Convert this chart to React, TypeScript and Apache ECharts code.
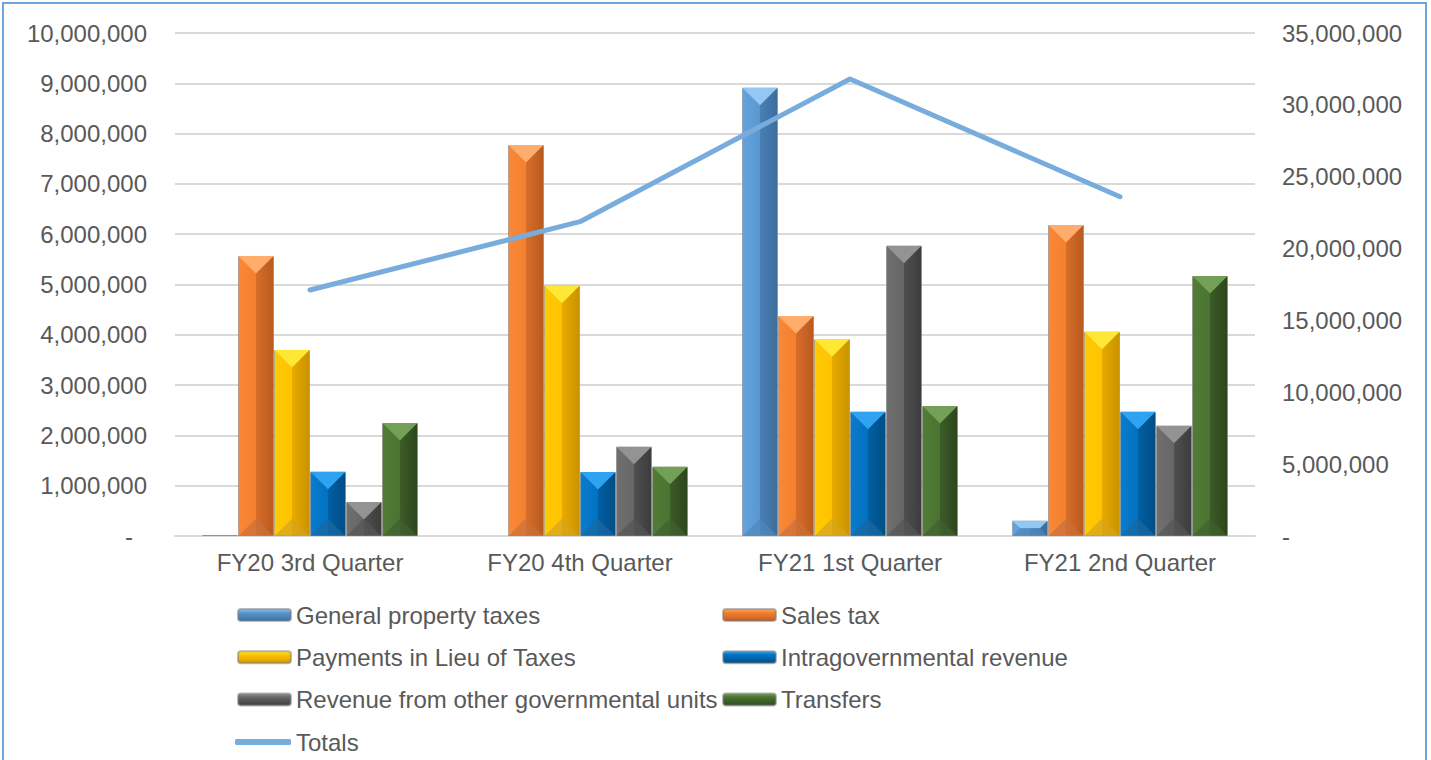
import React, { useEffect, useRef } from "react";
import * as echarts from "echarts";

const categories = ["FY20 3rd Quarter", "FY20 4th Quarter", "FY21 1st Quarter", "FY21 2nd Quarter"];

const generalPropertyTaxes = [20000, -25000, 8913000, 304000];
const salesTax = [5567000, 7773000, 4374000, 6183000];
const paymentsInLieu = [3698000, 4976000, 3910000, 4062000];
const intragovRevenue = [1278000, 1272000, 2471000, 2471000];
const otherGovUnits = [676000, 1775000, 5771000, 2193000];
const transfers = [2247000, 1378000, 2584000, 5169000];
const totals = [17120000, 21870000, 31800000, 23610000];

const barSeriesDefs = [
  { name: "General property taxes", data: generalPropertyTaxes, c: ["#62a3e0", "#5a97d0", "#4a80b6", "#3d6c9a"], top: "#93c8f4", bottom: "#4f86ba" },
  { name: "Sales tax", data: salesTax, c: ["#fb8837", "#f3802f", "#d86d29", "#b85a20"], top: "#ffac6c", bottom: "#c9713b" },
  { name: "Payments in Lieu of Taxes", data: paymentsInLieu, c: ["#ffca05", "#ffc300", "#e8ab00", "#c99200"], top: "#ffe835", bottom: "#d5a41e" },
  { name: "Intragovernmental revenue", data: intragovRevenue, c: ["#0a7cca", "#0072c2", "#005fa3", "#004d85"], top: "#30a2f2", bottom: "#1b68a3" },
  { name: "Revenue from other governmental units", data: otherGovUnits, c: ["#707070", "#666666", "#4f4f4f", "#3c3c3c"], top: "#939393", bottom: "#555555" },
  { name: "Transfers", data: transfers, c: ["#527c36", "#4b7331", "#3b5c27", "#2c461d"], top: "#72a056", bottom: "#40602f" },
];

const TEXT = "#595959";
const FONT = "'Liberation Sans', Arial, sans-serif";
const CAT_GAP = 0.2;
const LINE_COLOR = "#78acdc";

export default function App() {
  const ref = useRef<HTMLDivElement>(null);
  useEffect(() => {
    if (!ref.current) return;
    const chart = echarts.init(ref.current, undefined, { renderer: "svg" });
    const nBars = barSeriesDefs.length;
    const barSeries = barSeriesDefs.map((s) => ({
      name: s.name,
      type: "bar",
      yAxisIndex: 0,
      data: s.data,
      barGap: "0%",
      barCategoryGap: "20%",
      itemStyle: {
        color: {
          type: "linear",
          x: 0,
          y: 0,
          x2: 1,
          y2: 0,
          colorStops: [
            { offset: 0, color: s.c[0] },
            { offset: 0.5, color: s.c[1] },
            { offset: 0.5, color: s.c[2] },
            { offset: 1, color: s.c[3] },
          ],
        },
        borderColor: "rgba(130,130,130,0.55)",
        borderWidth: 1,
      },
    }));
    const bevelSeries = barSeriesDefs.map((s, si) => ({
      name: s.name + " bevel",
      type: "custom",
      yAxisIndex: 0,
      silent: true,
      z: 3,
      data: s.data.map((v, i) => [i, v]),
      renderItem: (params: any, api: any) => {
        const idx = api.value(0);
        const val = api.value(1);
        const top = api.coord([idx, val]);
        const base = api.coord([idx, 0]);
        const catW = api.size([1, 0])[0];
        const barW = (catW * (1 - CAT_GAP)) / nBars;
        const x0 = top[0] - (catW * (1 - CAT_GAP)) / 2 + barW * si + 0.5;
        const x1 = x0 + barW - 1;
        const yT = Math.min(top[1], base[1]);
        const yB = Math.max(top[1], base[1]);
        const h = yB - yT;
        if (h < 3) return null;
        const d = Math.min((x1 - x0) / 2, h / 2);
        return {
          type: "group",
          children: [
            {
              type: "polygon",
              shape: { points: [[x0, yT], [x1, yT], [x1 - d, yT + d], [x0 + d, yT + d]] },
              style: { fill: s.top },
            },
            {
              type: "polygon",
              shape: { points: [[x0, yB], [x1, yB], [x1 - d, yB - d], [x0 + d, yB - d]] },
              style: { fill: s.bottom, opacity: 0.7 },
            },
          ],
        };
      },
    }));
    const legendItem = (name: string) => {
      const s = barSeriesDefs.find((d) => d.name === name)!;
      return {
        name,
        itemStyle: {
          color: {
            type: "linear",
            x: 0,
            y: 0,
            x2: 0,
            y2: 1,
            colorStops: [
              { offset: 0, color: s.top },
              { offset: 0.3, color: s.c[1] },
              { offset: 0.7, color: s.c[2] },
              { offset: 1, color: s.c[3] },
            ],
          },
        },
      };
    };
    const legendCommon = {
      orient: "vertical",
      top: 603,
      height: 200,
      padding: 0,
      itemWidth: 53,
      itemHeight: 12,
      itemGap: 18.3,
      textStyle: { fontSize: 24, lineHeight: 24, color: TEXT, fontFamily: FONT },
    };
    chart.setOption({
      animation: false,
      textStyle: { fontFamily: FONT, color: TEXT },
      graphic: [
        {
          type: "rect",
          shape: { x: 3, y: 3, width: 1423, height: 800 },
          style: { fill: "none", stroke: "#6ea6dc", lineWidth: 2 },
          silent: true,
        },
      ],
      grid: { left: 175, right: 176, top: 33, bottom: 224, containLabel: false },
      xAxis: {
        type: "category",
        data: categories,
        axisLine: { lineStyle: { color: "#d9d9d9", width: 2 } },
        axisTick: { show: false },
        axisLabel: { color: TEXT, fontSize: 24, fontFamily: FONT, margin: 14 },
      },
      yAxis: [
        {
          type: "value",
          min: 0,
          max: 10000000,
          interval: 1000000,
          axisLine: { show: false },
          axisTick: { show: false },
          splitLine: { lineStyle: { color: "#d9d9d9", width: 2 } },
          axisLabel: {
            color: TEXT,
            fontSize: 24,
            fontFamily: FONT,
            margin: 28,
            formatter: (v: number) => (v === 0 ? "{z|-}" : v.toLocaleString("en-US")),
            rich: { z: { fontSize: 24, color: TEXT, fontFamily: FONT, padding: [0, 14, 0, 0] } },
          },
        },
        {
          type: "value",
          min: 0,
          max: 35000000,
          interval: 5000000,
          position: "right",
          axisLine: { show: false },
          axisTick: { show: false },
          splitLine: { show: false },
          axisLabel: {
            color: TEXT,
            fontSize: 24,
            fontFamily: FONT,
            margin: 27,
            formatter: (v: number) => (v === 0 ? "-" : v.toLocaleString("en-US")),
          },
        },
      ],
      legend: [
        {
          ...legendCommon,
          left: 237,
          data: [
            legendItem("General property taxes"),
            legendItem("Payments in Lieu of Taxes"),
            legendItem("Revenue from other governmental units"),
          ],
        },
        {
          ...legendCommon,
          left: 722,
          data: [legendItem("Sales tax"), legendItem("Intragovernmental revenue"), legendItem("Transfers")],
        },
        {
          ...legendCommon,
          left: 235,
          top: 730,
          itemWidth: 56,
          itemHeight: 6,
          icon: "roundRect",
          itemStyle: { color: LINE_COLOR },
          data: [{ name: "Totals", icon: "roundRect", itemStyle: { color: LINE_COLOR } }],
        },
      ],
      series: [
        ...barSeries,
        ...bevelSeries,
        {
          name: "Totals",
          type: "line",
          yAxisIndex: 1,
          data: totals,
          symbol: "none",
          itemStyle: { color: LINE_COLOR },
          lineStyle: { color: LINE_COLOR, width: 5, cap: "round", join: "round" },
          z: 5,
        },
      ],
    });
    return () => chart.dispose();
  }, []);
  return (
    <div
      ref={ref}
      style={{ position: "absolute", left: 0, top: 0, width: 1431, height: 760, background: "#fff" }}
    />
  );
}
